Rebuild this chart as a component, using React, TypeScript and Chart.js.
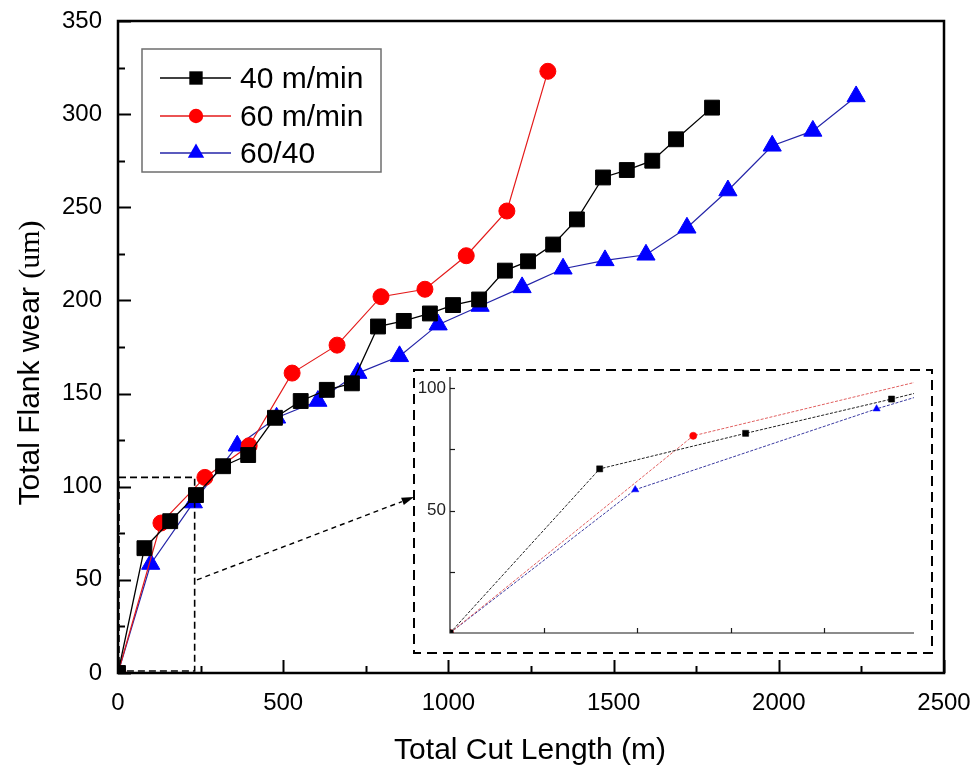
import { useEffect, useRef } from "react";
import { Chart, registerables } from "chart.js";

Chart.register(...registerables);

const SANS = "'Liberation Sans', Arial, sans-serif";
const SERIF = "'Liberation Serif', 'Times New Roman', serif";

// Total cut length (m) and total flank wear (um) for each cutting condition
const speed40Length = [0, 80, 158, 236, 318, 394, 475, 553, 632, 708, 787, 865, 944, 1014, 1093, 1171, 1241, 1317, 1389, 1468, 1540, 1617, 1689, 1798];
const speed40Wear = [0, 67, 81.5, 95.5, 111, 117, 137, 146, 152, 155.5, 186, 189, 193, 197.5, 200.5, 216, 221, 230, 243.5, 266, 270, 275, 286.5, 303.5];

const speed60Length = [0, 130, 263, 397, 527, 663, 796, 929, 1054, 1177, 1301];
const speed60Wear = [0, 80.5, 105, 122, 161, 176, 202, 206, 224, 248, 323];

const mixedLength = [0, 99, 228, 361, 480, 605, 726, 852, 969, 1096, 1223, 1347, 1474, 1598, 1722, 1846, 1980, 2103, 2234];
const mixedWear = [0, 58.5, 91.5, 122, 137, 146, 161, 170, 187, 197, 207, 217, 221.5, 224.5, 239, 259, 283, 291, 309.5];

const seriesLabels = ["40 m/min", "60 m/min", "60/40"];

// Axis ranges
const lengthRange = [0, 2500];
const wearRange = [0, 350];
const lengthStep = 500;
const wearStep = 50;

// Region magnified in the inset, and the inset's own axis ranges
const zoomLengthRange = [0, 232];
const zoomWearRange = [0, 105];
const insetLengthRange = [0, 248];
const insetWearRange = [0, 104.5];
const insetLengthLabels = [100, 200];
const insetWearLabels = [50, 100];

// Pointer from the magnified region to the inset (data coordinates)
const arrowFrom = [239, 50];
const arrowTo = [896, 94.5];

const INSET_BOX = { left: 413, top: 370, width: 520, height: 284 };

type Style = {
  line: string;
  fill: string;
  point: "rect" | "circle" | "triangle";
  radius: number;
  width: number;
  insetLine: string;
  insetRadius: number;
};

const styles: Style[] = [
  { line: "#000000", fill: "#000000", point: "rect", radius: 10.5, width: 1.3, insetLine: "#222222", insetRadius: 4.3 },
  { line: "#e41a1a", fill: "#ff0000", point: "circle", radius: 8, width: 1.2, insetLine: "#e06060", insetRadius: 3.6 },
  { line: "#2424a8", fill: "#0000ff", point: "triangle", radius: 10.5, width: 1.2, insetLine: "#3a3aa0", insetRadius: 4.2 },
];

const seriesData = [
  { x: speed40Length, y: speed40Wear },
  { x: speed60Length, y: speed60Wear },
  { x: mixedLength, y: mixedWear },
];

function drawMarker(ctx: CanvasRenderingContext2D, s: Style, x: number, y: number, r: number) {
  ctx.fillStyle = s.fill;
  ctx.beginPath();
  if (s.point === "rect") {
    const h = Math.SQRT1_2 * r;
    ctx.rect(x - h, y - h, 2 * h, 2 * h);
  } else if (s.point === "circle") {
    ctx.arc(x, y, r, 0, Math.PI * 2);
  } else {
    for (let k = 0; k < 3; k++) {
      const a = (k * 2 * Math.PI) / 3;
      const px = x + Math.sin(a) * r;
      const py = y - Math.cos(a) * r;
      if (k === 0) ctx.moveTo(px, py);
      else ctx.lineTo(px, py);
    }
    ctx.closePath();
  }
  ctx.fill();
}

// Pin the plot area: the axes take a fixed size and no label overflow padding.
function fixScale(size: number, horizontal: boolean) {
  return (s: any) => {
    if (horizontal) s.height = size;
    else s.width = size;
    s.paddingTop = 0;
    s.paddingBottom = 0;
    s.paddingLeft = 0;
    s.paddingRight = 0;
  };
}

const mainDecor = {
  id: "mainDecor",
  afterDraw(chart: any) {
    const { ctx, chartArea: a } = chart;
    const xs = chart.scales.x;
    const ys = chart.scales.y;
    ctx.save();

    // plot frame
    ctx.strokeStyle = "#000";
    ctx.lineWidth = 2.5;
    ctx.strokeRect(a.left, a.top, a.right - a.left, a.bottom - a.top);

    // inward tick marks
    ctx.lineWidth = 2;
    for (let v = wearRange[0]; v <= wearRange[1]; v += wearStep / 2) {
      const py = Math.round(ys.getPixelForValue(v)) + 0.5;
      const len = v % wearStep === 0 ? 13 : 7;
      ctx.beginPath();
      ctx.moveTo(a.left, py);
      ctx.lineTo(a.left + len, py);
      ctx.stroke();
    }
    for (let v = lengthRange[0]; v <= lengthRange[1]; v += lengthStep / 2) {
      const px = Math.round(xs.getPixelForValue(v)) + 0.5;
      const len = v % lengthStep === 0 ? 13 : 7;
      ctx.beginPath();
      ctx.moveTo(px, a.bottom);
      ctx.lineTo(px, a.bottom - len);
      ctx.stroke();
    }

    // magnified region
    ctx.setLineDash([7, 4]);
    ctx.lineWidth = 1.6;
    const zx0 = xs.getPixelForValue(zoomLengthRange[0]);
    const zx1 = xs.getPixelForValue(zoomLengthRange[1]);
    const zy0 = ys.getPixelForValue(zoomWearRange[0]);
    const zy1 = ys.getPixelForValue(zoomWearRange[1]);
    ctx.strokeRect(zx0 + 1, zy1, zx1 - zx0 - 1, zy0 - zy1 - 2);

    // inset frame
    ctx.setLineDash([10, 6]);
    ctx.lineWidth = 2;
    ctx.strokeRect(INSET_BOX.left + 1, INSET_BOX.top, INSET_BOX.width - 2, INSET_BOX.height - 1);

    // pointer arrow
    const ax0 = xs.getPixelForValue(arrowFrom[0]);
    const ay0 = ys.getPixelForValue(arrowFrom[1]);
    const ax1 = xs.getPixelForValue(arrowTo[0]);
    const ay1 = ys.getPixelForValue(arrowTo[1]);
    const ang = Math.atan2(ay1 - ay0, ax1 - ax0);
    const head = 13;
    ctx.setLineDash([5, 4]);
    ctx.lineWidth = 1.4;
    ctx.beginPath();
    ctx.moveTo(ax0, ay0);
    ctx.lineTo(ax1 - Math.cos(ang) * head, ay1 - Math.sin(ang) * head);
    ctx.stroke();
    ctx.setLineDash([]);
    ctx.fillStyle = "#000";
    ctx.beginPath();
    ctx.moveTo(ax1, ay1);
    ctx.lineTo(ax1 - Math.cos(ang - 0.3) * head, ay1 - Math.sin(ang - 0.3) * head);
    ctx.lineTo(ax1 - Math.cos(ang + 0.3) * head, ay1 - Math.sin(ang + 0.3) * head);
    ctx.closePath();
    ctx.fill();

    // legend
    ctx.strokeStyle = "#6e6e6e";
    ctx.lineWidth = 1.5;
    ctx.strokeRect(142, 49, 239, 123);
    const rows = [78, 116, 153];
    ctx.font = `30px ${SANS}`;
    ctx.textBaseline = "middle";
    ctx.textAlign = "left";
    seriesLabels.forEach((label, i) => {
      const s = styles[i];
      const ry = rows[i];
      ctx.strokeStyle = s.line;
      ctx.lineWidth = 1.3;
      ctx.beginPath();
      ctx.moveTo(160, ry);
      ctx.lineTo(231, ry);
      ctx.stroke();
      drawMarker(ctx, s, 196, ry, s.radius * 0.9);
      ctx.fillStyle = "#000";
      ctx.fillText(label, 240, ry + 2);
    });

    // axis titles
    ctx.fillStyle = "#000";
    ctx.font = `30px ${SANS}`;
    ctx.textAlign = "center";
    ctx.textBaseline = "alphabetic";
    ctx.fillText("Total Cut Length (m)", (a.left + a.right) / 2 - 1, 759);

    ctx.save();
    ctx.translate(39, 363);
    ctx.rotate(-Math.PI / 2);
    const partA = "Total Flank wear ";
    const partB = "(um)";
    ctx.font = `30px ${SANS}`;
    const wA = ctx.measureText(partA).width;
    ctx.font = `30px ${SERIF}`;
    const wB = ctx.measureText(partB).width;
    const start = -(wA + wB) / 2;
    ctx.textAlign = "left";
    ctx.font = `30px ${SANS}`;
    ctx.fillText(partA, start, 0);
    ctx.font = `30px ${SERIF}`;
    ctx.fillText(partB, start + wA, 0);
    ctx.restore();

    ctx.restore();
  },
};

const insetDecor = {
  id: "insetDecor",
  afterDraw(chart: any) {
    const { ctx, chartArea: a } = chart;
    const xs = chart.scales.x;
    const ys = chart.scales.y;
    ctx.save();
    ctx.strokeStyle = "#1a1a1a";
    ctx.lineWidth = 1.2;
    ctx.beginPath();
    ctx.moveTo(a.left, a.top);
    ctx.lineTo(a.left, a.bottom);
    ctx.lineTo(a.right, a.bottom);
    ctx.stroke();
    for (let v = 25; v <= insetWearRange[1]; v += 25) {
      const py = Math.round(ys.getPixelForValue(v)) + 0.5;
      ctx.beginPath();
      ctx.moveTo(a.left, py);
      ctx.lineTo(a.left + 5, py);
      ctx.stroke();
    }
    for (let v = 50; v <= insetLengthRange[1]; v += 50) {
      const px = Math.round(xs.getPixelForValue(v)) + 0.5;
      ctx.beginPath();
      ctx.moveTo(px, a.bottom);
      ctx.lineTo(px, a.bottom - 5);
      ctx.stroke();
    }
    ctx.restore();
  },
};

export default function App() {
  const mainRef = useRef<HTMLCanvasElement>(null);
  const insetRef = useRef<HTMLCanvasElement>(null);

  useEffect(() => {
    if (!mainRef.current || !insetRef.current) return;

    const mainChart = new Chart(mainRef.current, {
      type: "line",
      data: {
        datasets: seriesData.map((d, i) => ({
          label: seriesLabels[i],
          data: d.x.map((x, k) => ({ x, y: d.y[k] })),
          borderColor: styles[i].line,
          borderWidth: styles[i].width,
          backgroundColor: styles[i].fill,
          pointBackgroundColor: styles[i].fill,
          pointBorderColor: styles[i].fill,
          pointBorderWidth: 1,
          pointStyle: styles[i].point,
          pointRadius: styles[i].radius,
          tension: 0,
          fill: false,
        })),
      },
      options: {
        responsive: false,
        animation: false,
        devicePixelRatio: 1,
        events: [],
        layout: { padding: { top: 21, right: 32, left: 0, bottom: 0 } },
        plugins: { legend: { display: false }, tooltip: { enabled: false } },
        scales: {
          x: {
            type: "linear",
            min: lengthRange[0],
            max: lengthRange[1],
            ticks: {
              stepSize: lengthStep,
              color: "#000",
              font: { family: SANS, size: 24 },
              padding: 16,
              maxRotation: 0,
              callback: (v: any) => String(v),
            },
            grid: { display: false, drawTicks: false },
            border: { display: false },
            afterFit: fixScale(94, true),
          },
          y: {
            type: "linear",
            min: wearRange[0],
            max: wearRange[1],
            ticks: {
              stepSize: wearStep,
              color: "#000",
              font: { family: SANS, size: 24 },
              padding: 16,
              callback: (v: any) => String(v),
            },
            grid: { display: false, drawTicks: false },
            border: { display: false },
            afterFit: fixScale(118, false),
          },
        },
      },
      plugins: [mainDecor],
    } as any);

    const insetChart = new Chart(insetRef.current, {
      type: "line",
      data: {
        datasets: seriesData.map((d, i) => ({
          label: seriesLabels[i],
          data: d.x.map((x, k) => ({ x, y: d.y[k] })),
          borderColor: styles[i].insetLine,
          borderWidth: 1,
          borderDash: [3, 1.5],
          backgroundColor: styles[i].fill,
          pointBackgroundColor: styles[i].fill,
          pointBorderColor: styles[i].fill,
          pointBorderWidth: 0.5,
          pointStyle: styles[i].point,
          pointRadius: styles[i].insetRadius,
          tension: 0,
          fill: false,
        })),
      },
      options: {
        responsive: false,
        animation: false,
        devicePixelRatio: 1,
        events: [],
        layout: { padding: { top: 7, right: 19, left: 0, bottom: 0 } },
        plugins: { legend: { display: false }, tooltip: { enabled: false } },
        scales: {
          x: {
            type: "linear",
            min: insetLengthRange[0],
            max: insetLengthRange[1],
            ticks: {
              stepSize: 50,
              includeBounds: false,
              color: "#222",
              font: { family: SANS, size: 14 },
              padding: 3,
              maxRotation: 0,
              callback: (v: any) => (insetLengthLabels.includes(Number(v)) ? String(v) : ""),
            },
            grid: { display: false, drawTicks: false },
            border: { display: false },
            afterFit: fixScale(21, true),
          },
          y: {
            type: "linear",
            min: insetWearRange[0],
            max: insetWearRange[1],
            ticks: {
              stepSize: 25,
              includeBounds: false,
              color: "#222",
              font: { family: SANS, size: 17 },
              padding: 4,
              callback: (v: any) => (insetWearLabels.includes(Number(v)) ? String(v) : ""),
            },
            grid: { display: false, drawTicks: false },
            border: { display: false },
            afterFit: fixScale(37, false),
          },
        },
      },
      plugins: [insetDecor],
    } as any);

    return () => {
      mainChart.destroy();
      insetChart.destroy();
    };
  }, []);

  return (
    <div style={{ position: "fixed", left: 0, top: 0, width: 976, height: 767, background: "#fff" }}>
      <canvas ref={mainRef} width={976} height={767} style={{ position: "absolute", left: 0, top: 0 }} />
      <canvas
        ref={insetRef}
        width={INSET_BOX.width}
        height={INSET_BOX.height}
        style={{ position: "absolute", left: INSET_BOX.left, top: INSET_BOX.top }}
      />
    </div>
  );
}
